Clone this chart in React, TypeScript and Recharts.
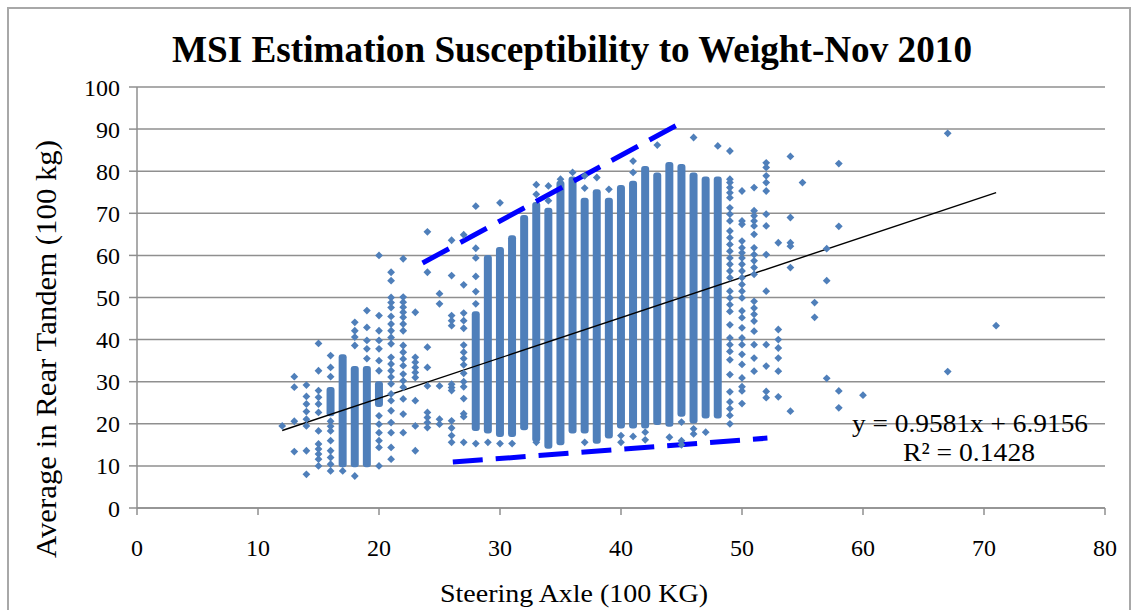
import { ComposedChart, Bar, Scatter, XAxis, YAxis, CartesianGrid, ReferenceLine } from "recharts";

const xTicks = [0, 10, 20, 30, 40, 50, 60, 70, 80];
const yTicks = [0, 10, 20, 30, 40, 50, 60, 70, 80, 90, 100];

// solid stacks of markers: [steering axle, lowest, highest]
const denseColumns: [number, number, number][] = [
  [16, 22.5, 28], [17, 10.4, 35.8], [18, 10.4, 33], [19, 10.4, 33], [20, 24.7, 29.4],
  [28, 19, 46], [29, 18.4, 59.4], [30, 17.6, 61.3], [31, 17.6, 64.1], [32, 19.2, 68.9],
  [33, 16.4, 72], [34, 14.8, 70.6], [35, 15.6, 77], [36, 18.4, 78], [37, 18.4, 73],
  [38, 16, 75], [39, 17.2, 73], [40, 19.6, 76], [41, 19.6, 77], [42, 19.6, 80.5],
  [43, 20.4, 79], [44, 20, 81.5], [45, 22.4, 81], [46, 20.8, 79], [47, 22, 78], [48, 22, 78],
];

// single markers, per column
const looseMarkers: [number, number[]][] = [
  [12, [19.5]],
  [13, [31.2, 28.7, 20.6, 13.4]],
  [14, [29.2, 26.5, 24.7, 22.9, 21.1, 19.5, 13.6, 8]],
  [15, [39.1, 32.6, 27.9, 26.3, 24.7, 22.7, 18.3, 15.2, 14, 12.8, 11.6, 10]],
  [16, [36.2, 33.4, 31.2, 20.6, 19.4, 18.3, 16, 13.6, 12, 10.4, 8.8]],
  [17, [8.8]],
  [18, [44.1, 42.1, 40.6, 38.6, 7.6]],
  [19, [46.9, 42.9, 39.8, 37.8, 35.5]],
  [20, [60, 45.7, 42.1, 39.8, 37.8, 35, 32.6, 21.9, 19.9, 17.9, 16, 14.4, 10]],
  [21, [56, 54, 50, 48.8, 47.6, 45.5, 43.7, 42.1, 40.5, 39, 35.8, 34.2, 32.6, 31.1, 29.5, 27.1, 25.5, 23.1, 20.3, 17.9, 14.4, 11.6]],
  [22, [59.2, 50.1, 48.9, 47.7, 46.5, 45.3, 43.7, 42.1, 38.6, 37, 35.4, 33.8, 31.8, 30.2, 28.7, 25.9, 22.3, 17.9]],
  [23, [46.5, 35.8, 34.6, 33.4, 32.2, 31, 25.5, 19.5, 13.6]],
  [24, [65.6, 56, 38.2, 33.4, 29, 22.7, 21.5, 20.3, 19.1]],
  [25, [50.9, 48.5, 29, 21.1, 19.9]],
  [26, [63.6, 55.2, 45.7, 44.5, 43.3, 29.4, 28.6, 27.9, 20.7, 19, 17.2, 15.6]],
  [27, [64.9, 53, 46.3, 44.5, 42.7, 38.7, 37, 35.5, 34, 32, 30, 28.8, 26, 22.4, 21.7, 15.6]],
  [28, [71.7, 61.7, 59.4, 55, 51.4, 48.5, 15.3]],
  [29, [15.6]],
  [30, [72.5, 15.3]],
  [31, [15.3]],
  [33, [76.8, 74.5, 15.6]],
  [34, [76.5, 73]],
  [35, [78.1]],
  [36, [79.7]],
  [37, [78.9, 76, 15.6]],
  [38, [78.5]],
  [39, [75.7]],
  [40, [17.2, 15.6]],
  [41, [82.4, 79.7, 17]],
  [42, [18, 16.2]],
  [43, [86.2]],
  [44, [16.8]],
  [45, [20.4, 16, 15]],
  [46, [88, 18.8, 17.6]],
  [47, [18]],
  [48, [86]],
  [49, [84.8, 78.1, 77.3, 76.1, 74.9, 73.7, 71.3, 69.8, 68.2, 65.8, 64.2, 62.6, 61, 59.4, 57.9, 56.3, 54.7, 51.5, 49.9, 48.3, 46.7, 43.5, 40.4, 38.8, 37.2, 35.2, 31.7, 27.6, 25.2, 23.6, 22, 20]],
  [50, [75.3, 68.2, 67.4, 63.4, 61.8, 60.6, 59.4, 57.9, 56.3, 54.7, 53.1, 51.5, 49.9, 46.8, 45.2, 42.8, 40.4, 38.8, 36.5, 34.1, 30.9, 28.8, 27.8, 24.8]],
  [51, [76.1, 70.6, 69.4, 68.2, 67, 65, 61.8, 60.2, 58.7, 57.1, 55.5, 49.1, 47.5, 46, 44.4, 42, 38.8, 35.6, 32.5]],
  [52, [82, 80.9, 78.9, 77.3, 75.3, 69.8, 67, 60.2, 51.5, 38.8, 33.7, 27.7, 26.2]],
  [53, [63, 42.4, 40, 38, 35.6, 32.5, 26.4]],
  [54, [83.5, 69, 63, 62.2, 57.1, 23]],
  [55, [77.3]],
  [56, [48.8, 45.3]],
  [57, [61.6, 54, 30.8]],
  [58, [81.8, 66.9, 27.8, 23.8]],
  [60, [26.8]],
  [67, [89, 32.4]],
  [71, [43.3]],
];

const trendLine = [{ x: 12, y: 18.4 }, { x: 71, y: 74.9 }];
const upperEdge = [{ x: 23.6, y: 58.2 }, { x: 45.1, y: 91.7 }];
const lowerEdge = [{ x: 26.1, y: 10.9 }, { x: 52.1, y: 16.6 }];

const DOT = "#4F7FBA";
const GRID = "#8F8F8F";
const SERIF = "'Liberation Serif', 'Times New Roman', serif";

const denseData = denseColumns.map(([x, lo, hi]) => ({ x, range: [lo, hi] }));
const looseData = looseMarkers.flatMap(([x, ys]) => ys.map((y) => ({ x, y })));

const Diamond = (props: any) => {
  const { cx, cy } = props;
  const r = 3.9;
  return <polygon points={`${cx},${cy - r} ${cx + r},${cy} ${cx},${cy + r} ${cx - r},${cy}`} fill={DOT} />;
};

const Stack = (props: any) => {
  const { x, y, width, height } = props;
  return <rect x={x} y={y - 3} width={width} height={Math.abs(height) + 6} rx={3} fill={DOT} />;
};

export default function App() {
  return (
    <div style={{ position: "relative", width: 1137, height: 610, overflow: "hidden", background: "#fff" }}>
      <style>{"body{margin:0}"}</style>
      <div
        style={{
          position: "absolute",
          left: 7,
          top: 7,
          width: 1120,
          height: 700,
          border: "2px solid #A8A8A8",
        }}
      />
      <div style={{ position: "absolute", left: 0, top: 0 }}>
        <ComposedChart width={1137} height={610} data={denseData} margin={{ top: 87, right: 32, bottom: 0, left: 0 }}>
          <CartesianGrid horizontal vertical={false} stroke={GRID} strokeWidth={1.5} />
          <XAxis
            dataKey="x"
            type="number"
            domain={[0, 80]}
            ticks={xTicks}
            height={102}
            tickSize={7}
            tickMargin={24}
            stroke={GRID}
            strokeWidth={1.5}
            tick={{ fontSize: 24, fill: "#000", fontFamily: SERIF }}
          />
          <YAxis
            type="number"
            domain={[0, 100]}
            ticks={yTicks}
            width={137}
            tickSize={8}
            tickMargin={9}
            stroke={GRID}
            strokeWidth={1.5}
            tick={{ fontSize: 24, fill: "#000", fontFamily: SERIF }}
          />
          <Bar dataKey="range" barSize={8} fill={DOT} shape={<Stack />} isAnimationActive={false} />
          <Scatter data={looseData} dataKey="y" shape={<Diamond />} isAnimationActive={false} />
          <ReferenceLine segment={trendLine} stroke="#000" strokeWidth={1.4} />
          <ReferenceLine segment={upperEdge} stroke="#0000FF" strokeWidth={5} strokeDasharray="30 13" />
          <ReferenceLine segment={lowerEdge} stroke="#0000FF" strokeWidth={5} strokeDasharray="30 13" />
        </ComposedChart>
      </div>
      <svg width={1137} height={610} style={{ position: "absolute", left: 0, top: 0, pointerEvents: "none" }}>
        <text x={172} y={62} fontFamily={SERIF} fontWeight="bold" fontSize={38} textLength={800} lengthAdjust="spacingAndGlyphs">
          MSI Estimation Susceptibility to Weight-Nov 2010
        </text>
        <text x={440} y={602} fontFamily={SERIF} fontSize={26} textLength={268} lengthAdjust="spacingAndGlyphs">
          Steering Axle (100 KG)
        </text>
        <text
          transform="translate(56 349) rotate(-90)"
          textAnchor="middle"
          fontFamily={SERIF}
          fontSize={29}
          textLength={418}
          lengthAdjust="spacingAndGlyphs"
        >
          Average in Rear Tandem (100 kg)
        </text>
        <text x={852} y={432} fontFamily={SERIF} fontSize={26} textLength={236} lengthAdjust="spacingAndGlyphs">
          y = 0.9581x + 6.9156
        </text>
        <text x={903} y={461} fontFamily={SERIF} fontSize={26} textLength={132} lengthAdjust="spacingAndGlyphs">
          R² = 0.1428
        </text>
      </svg>
    </div>
  );
}
